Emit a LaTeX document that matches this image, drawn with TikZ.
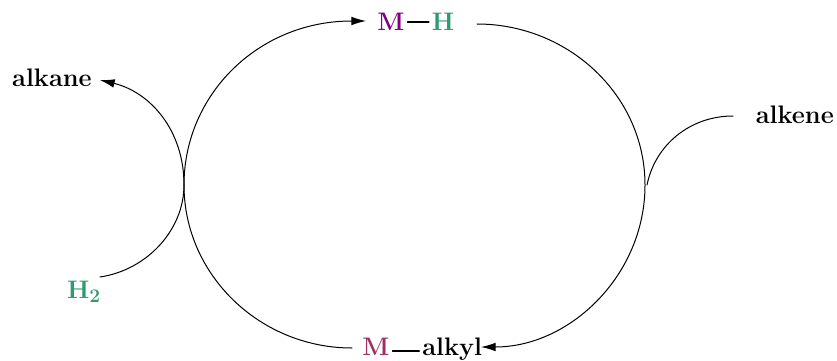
\documentclass[tikz,border=0pt]{standalone}
\usetikzlibrary{arrows.meta}
\definecolor{metalpurple}{RGB}{128,0,128}
\definecolor{metalrose}{RGB}{158,48,100}
\definecolor{hydrogreen}{RGB}{46,155,110}
\tikzset{
  species/.style={font=\bfseries\fontsize{19}{21}\selectfont,inner sep=0pt,text=black},
  lowrow/.style={text height=10pt,text depth=3pt},
  ring/.style={line width=0.75pt},
  bond/.style={line width=0.9pt,shorten <=2pt,shorten >=2pt},
  tip/.style={-{Latex[length=11pt,width=6.5pt]}},
}
\begin{document}
\begin{tikzpicture}[x=0.75pt,y=-0.75pt,line cap=round,line join=round,>=latex]
  \useasboundingbox (0,0) rectangle (837,360);
  \node[species,text=metalpurple] (mhm) at (391,22) {M};
  \node[species,text=hydrogreen] (mhh) at (443,22) {H};
  \node[species,lowrow,text=metalrose] (mam) at (376,351) {M};
  \node[species,lowrow,anchor=west] (maa) at (422,351) {alkyl};
  \node[species,anchor=east] (alkane) at (92,78) {alkane};
  \node[species,anchor=east] (alkene) at (834,115) {alkene};
  \node[species,text=hydrogreen] (dihyd) at (84,292) {H$_{\mathbf 2}$};
  \draw[bond] (mhm) -- (mhh);
  \draw[bond] (mam) -- (maa);
  % right half of the ring
  \draw[ring,tip] (477,24) .. controls (568,24) and (645,95) .. (645,185)
    .. controls (645,275) and (570,347) .. (481,347);
  % left half of the ring
  \draw[ring,tip] (352,348) .. controls (260,348) and (184,275) .. (184,185)
    .. controls (184,95) and (258,21) .. (366,21);
  % hydrogen in, alkane out
  \draw[ring,tip] (100,277) .. controls (147,270) and (184,230) .. (184,185)
    .. controls (184,130) and (150,92) .. (100,80);
  % alkene in
  \draw[ring] (733,116) .. controls (690,116) and (655,145) .. (647,185);
\end{tikzpicture}
\end{document}
